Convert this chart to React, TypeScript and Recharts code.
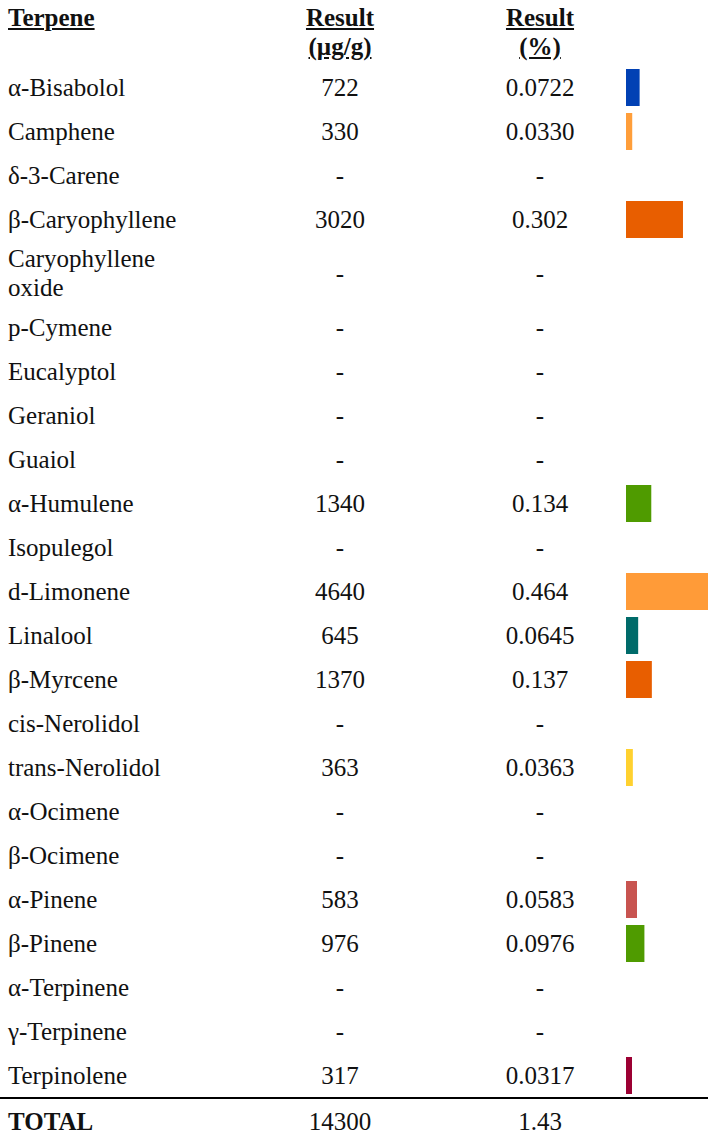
import { BarChart, Bar, XAxis, YAxis, Cell } from 'recharts';

const terpenes = [
  'α-Bisabolol', 'Camphene', 'δ-3-Carene', 'β-Caryophyllene', 'Caryophyllene oxide',
  'p-Cymene', 'Eucalyptol', 'Geraniol', 'Guaiol', 'α-Humulene', 'Isopulegol',
  'd-Limonene', 'Linalool', 'β-Myrcene', 'cis-Nerolidol', 'trans-Nerolidol',
  'α-Ocimene', 'β-Ocimene', 'α-Pinene', 'β-Pinene', 'α-Terpinene', 'γ-Terpinene',
  'Terpinolene',
];

// µg/g, null = not detected
const results: (number | null)[] = [
  722, 330, null, 3020, null,
  null, null, null, null, 1340, null,
  4640, 645, 1370, null, 363,
  null, null, 583, 976, null, null,
  317,
];

const barColors: (string | null)[] = [
  '#0141B4', '#FF9E3A', null, '#E85E00', null,
  null, null, null, null, '#4F9B00', null,
  '#FF9B38', '#006B6A', '#E85E00', null, '#FFD12F',
  null, null, '#C85450', '#4F9B00', null, null,
  '#9C0033',
];

const pct = (v: number) => (v / 10000).toPrecision(3);
const total = results.reduce<number>((s, v) => s + (v ?? 0), 0);

const rows = terpenes.map((name, i) => ({
  name,
  value: results[i],
  color: barColors[i] ?? '#999',
}));

const FONT = '"Liberation Serif", "Times New Roman", serif';
const ROW_H = 44;
const BAR_LEFT = 626;
const X_MAX = 4770;

function Bars({ data, top }: { data: typeof rows; top: number }) {
  return (
    <div style={{ position: 'absolute', left: BAR_LEFT, top }}>
      <BarChart
        layout="vertical"
        width={90}
        height={data.length * ROW_H}
        data={data}
        margin={{ top: 0, right: 0, bottom: 0, left: 0 }}
      >
        <XAxis type="number" hide domain={[0, X_MAX]} />
        <YAxis type="category" dataKey="name" hide width={0} />
        <Bar dataKey="value" barSize={37} isAnimationActive={false}>
          {data.map((d) => (
            <Cell key={d.name} fill={d.color} />
          ))}
        </Bar>
      </BarChart>
    </div>
  );
}

const cell = (w: number, align: 'left' | 'center'): React.CSSProperties => ({
  width: w,
  textAlign: align,
  flexShrink: 0,
});

export default function App() {
  return (
    <div
      style={{
        position: 'absolute',
        left: 0,
        top: 0,
        width: 708,
        height: 1134,
        overflow: 'hidden',
        background: '#fff',
        fontFamily: FONT,
        fontSize: 25,
        lineHeight: '29px',
        color: '#111',
      }}
    >
      <div
        style={{
          display: 'flex',
          height: 65,
          boxSizing: 'border-box',
          paddingTop: 3,
          paddingLeft: 8,
          fontWeight: 'bold',
        }}
      >
        <div style={{ ...cell(232, 'left'), textDecoration: 'underline' }}>Terpene</div>
        <div style={{ ...cell(200, 'center'), textDecoration: 'underline' }}>
          Result<br />(µg/g)
        </div>
        <div style={{ ...cell(200, 'center'), textDecoration: 'underline' }}>
          Result<br />(%)
        </div>
      </div>
      {rows.map((r) => (
        <div
          key={r.name}
          style={{ display: 'flex', alignItems: 'center', minHeight: 38, padding: '3px 0 3px 8px' }}
        >
          <div style={{ ...cell(190, 'left'), marginRight: 42 }}>{r.name}</div>
          <div style={cell(200, 'center')}>{r.value == null ? '-' : r.value}</div>
          <div style={cell(200, 'center')}>{r.value == null ? '-' : pct(r.value)}</div>
        </div>
      ))}
      <div style={{ height: 2, background: '#000' }} />
      <div style={{ display: 'flex', alignItems: 'center', height: 44, paddingLeft: 8 }}>
        <div style={{ ...cell(232, 'left'), fontWeight: 'bold' }}>TOTAL</div>
        <div style={cell(200, 'center')}>{Number(total.toPrecision(3))}</div>
        <div style={cell(200, 'center')}>{pct(total)}</div>
      </div>
      <Bars data={rows.slice(0, 4)} top={65} />
      <Bars data={rows.slice(5)} top={65 + 4 * ROW_H + 64} />
    </div>
  );
}
